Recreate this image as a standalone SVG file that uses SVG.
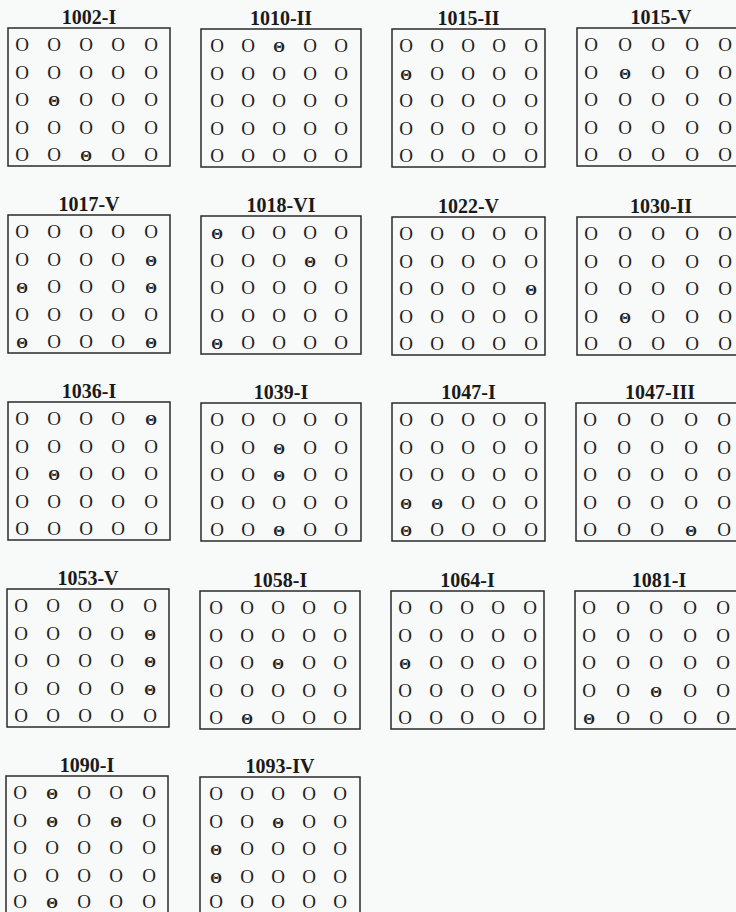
<svg xmlns="http://www.w3.org/2000/svg" width="736" height="912" viewBox="0 0 736 912">
<style>
.bg{fill:#f8f9f9}
.box{fill:none;stroke:#2a2a2a;stroke-width:1.5}
.ttl{font-family:"Liberation Serif","Times New Roman",serif;font-weight:bold;font-size:20px;text-anchor:middle;fill:#1a1a1a}
.c{font-family:"Liberation Serif","Times New Roman",serif;font-size:19px;text-anchor:middle;fill:#222}
.t{font-size:15px;font-weight:bold}
</style>
<rect class="bg" x="0" y="0" width="736" height="912"/>

<g id="g1002-I" transform="translate(8,28)">
<rect class="box" x="0" y="0" width="162" height="138"/>
<text class="ttl" x="81" y="-4">1002-I</text>
<text class="c" x="14 46 78 110 143" y="23">OOOOO</text>
<text class="c" x="14 46 78 110 143" y="50.5">OOOOO</text>
<text class="c" x="14 46 78 110 143" y="78">O<tspan class="t">Θ</tspan>OOO</text>
<text class="c" x="14 46 78 110 143" y="105.5">OOOOO</text>
<text class="c" x="14 46 78 110 143" y="133">OO<tspan class="t">Θ</tspan>OO</text>
</g>

<g id="g1010-II" transform="translate(201,29)">
<rect class="box" x="0" y="0" width="160" height="138"/>
<text class="ttl" x="80" y="-4">1010-II</text>
<text class="c" x="16 47 78 109 140" y="23">OO<tspan class="t">Θ</tspan>OO</text>
<text class="c" x="16 47 78 109 140" y="50.5">OOOOO</text>
<text class="c" x="16 47 78 109 140" y="78">OOOOO</text>
<text class="c" x="16 47 78 109 140" y="105.5">OOOOO</text>
<text class="c" x="16 47 78 109 140" y="133">OOOOO</text>
</g>

<g id="g1015-II" transform="translate(392,29)">
<rect class="box" x="0" y="0" width="153" height="138"/>
<text class="ttl" x="76.5" y="-4">1015-II</text>
<text class="c" x="14 45 76 107 139" y="23">OOOOO</text>
<text class="c" x="14 45 76 107 139" y="50.5"><tspan class="t">Θ</tspan>OOOO</text>
<text class="c" x="14 45 76 107 139" y="78">OOOOO</text>
<text class="c" x="14 45 76 107 139" y="105.5">OOOOO</text>
<text class="c" x="14 45 76 107 139" y="133">OOOOO</text>
</g>

<g id="g1015-V" transform="translate(577,28)">
<rect class="box" x="0" y="0" width="168" height="138"/>
<text class="ttl" x="84" y="-4">1015-V</text>
<text class="c" x="14 48 81 115 148" y="23">OOOOO</text>
<text class="c" x="14 48 81 115 148" y="50.5">O<tspan class="t">Θ</tspan>OOO</text>
<text class="c" x="14 48 81 115 148" y="78">OOOOO</text>
<text class="c" x="14 48 81 115 148" y="105.5">OOOOO</text>
<text class="c" x="14 48 81 115 148" y="133">OOOOO</text>
</g>

<g id="g1017-V" transform="translate(8,215)">
<rect class="box" x="0" y="0" width="162" height="138"/>
<text class="ttl" x="81" y="-4">1017-V</text>
<text class="c" x="14 46 78 110 143" y="23">OOOOO</text>
<text class="c" x="14 46 78 110 143" y="50.5">OOOO<tspan class="t">Θ</tspan></text>
<text class="c" x="14 46 78 110 143" y="78"><tspan class="t">Θ</tspan>OOO<tspan class="t">Θ</tspan></text>
<text class="c" x="14 46 78 110 143" y="105.5">OOOOO</text>
<text class="c" x="14 46 78 110 143" y="133"><tspan class="t">Θ</tspan>OOO<tspan class="t">Θ</tspan></text>
</g>

<g id="g1018-VI" transform="translate(201,216)">
<rect class="box" x="0" y="0" width="160" height="138"/>
<text class="ttl" x="80" y="-4">1018-VI</text>
<text class="c" x="16 47 78 109 140" y="23"><tspan class="t">Θ</tspan>OOOO</text>
<text class="c" x="16 47 78 109 140" y="50.5">OOO<tspan class="t">Θ</tspan>O</text>
<text class="c" x="16 47 78 109 140" y="78">OOOOO</text>
<text class="c" x="16 47 78 109 140" y="105.5">OOOOO</text>
<text class="c" x="16 47 78 109 140" y="133"><tspan class="t">Θ</tspan>OOOO</text>
</g>

<g id="g1022-V" transform="translate(392,217)">
<rect class="box" x="0" y="0" width="153" height="138"/>
<text class="ttl" x="76.5" y="-4">1022-V</text>
<text class="c" x="14 45 76 107 139" y="23">OOOOO</text>
<text class="c" x="14 45 76 107 139" y="50.5">OOOOO</text>
<text class="c" x="14 45 76 107 139" y="78">OOOO<tspan class="t">Θ</tspan></text>
<text class="c" x="14 45 76 107 139" y="105.5">OOOOO</text>
<text class="c" x="14 45 76 107 139" y="133">OOOOO</text>
</g>

<g id="g1030-II" transform="translate(577,217)">
<rect class="box" x="0" y="0" width="168" height="138"/>
<text class="ttl" x="84" y="-4">1030-II</text>
<text class="c" x="14 48 81 115 148" y="23">OOOOO</text>
<text class="c" x="14 48 81 115 148" y="50.5">OOOOO</text>
<text class="c" x="14 48 81 115 148" y="78">OOOOO</text>
<text class="c" x="14 48 81 115 148" y="105.5">O<tspan class="t">Θ</tspan>OOO</text>
<text class="c" x="14 48 81 115 148" y="133">OOOOO</text>
</g>

<g id="g1036-I" transform="translate(8,402)">
<rect class="box" x="0" y="0" width="162" height="138"/>
<text class="ttl" x="81" y="-4">1036-I</text>
<text class="c" x="14 46 78 110 143" y="23">OOOO<tspan class="t">Θ</tspan></text>
<text class="c" x="14 46 78 110 143" y="50.5">OOOOO</text>
<text class="c" x="14 46 78 110 143" y="78">O<tspan class="t">Θ</tspan>OOO</text>
<text class="c" x="14 46 78 110 143" y="105.5">OOOOO</text>
<text class="c" x="14 46 78 110 143" y="133">OOOOO</text>
</g>

<g id="g1039-I" transform="translate(201,403)">
<rect class="box" x="0" y="0" width="160" height="138"/>
<text class="ttl" x="80" y="-4">1039-I</text>
<text class="c" x="16 47 78 109 140" y="23">OOOOO</text>
<text class="c" x="16 47 78 109 140" y="50.5">OO<tspan class="t">Θ</tspan>OO</text>
<text class="c" x="16 47 78 109 140" y="78">OO<tspan class="t">Θ</tspan>OO</text>
<text class="c" x="16 47 78 109 140" y="105.5">OOOOO</text>
<text class="c" x="16 47 78 109 140" y="133">OO<tspan class="t">Θ</tspan>OO</text>
</g>

<g id="g1047-I" transform="translate(392,403)">
<rect class="box" x="0" y="0" width="153" height="138"/>
<text class="ttl" x="76.5" y="-4">1047-I</text>
<text class="c" x="14 45 76 107 139" y="23">OOOOO</text>
<text class="c" x="14 45 76 107 139" y="50.5">OOOOO</text>
<text class="c" x="14 45 76 107 139" y="78">OOOOO</text>
<text class="c" x="14 45 76 107 139" y="105.5"><tspan class="t">Θ</tspan><tspan class="t">Θ</tspan>OOO</text>
<text class="c" x="14 45 76 107 139" y="133"><tspan class="t">Θ</tspan>OOOO</text>
</g>

<g id="g1047-III" transform="translate(576,403)">
<rect class="box" x="0" y="0" width="168" height="138"/>
<text class="ttl" x="84" y="-4">1047-III</text>
<text class="c" x="14 48 81 115 148" y="23">OOOOO</text>
<text class="c" x="14 48 81 115 148" y="50.5">OOOOO</text>
<text class="c" x="14 48 81 115 148" y="78">OOOOO</text>
<text class="c" x="14 48 81 115 148" y="105.5">OOOOO</text>
<text class="c" x="14 48 81 115 148" y="133">OOO<tspan class="t">Θ</tspan>O</text>
</g>

<g id="g1053-V" transform="translate(7,589)">
<rect class="box" x="0" y="0" width="162" height="138"/>
<text class="ttl" x="81" y="-4">1053-V</text>
<text class="c" x="14 46 78 110 143" y="23">OOOOO</text>
<text class="c" x="14 46 78 110 143" y="50.5">OOOO<tspan class="t">Θ</tspan></text>
<text class="c" x="14 46 78 110 143" y="78">OOOO<tspan class="t">Θ</tspan></text>
<text class="c" x="14 46 78 110 143" y="105.5">OOOO<tspan class="t">Θ</tspan></text>
<text class="c" x="14 46 78 110 143" y="133">OOOOO</text>
</g>

<g id="g1058-I" transform="translate(200,591)">
<rect class="box" x="0" y="0" width="160" height="138"/>
<text class="ttl" x="80" y="-4">1058-I</text>
<text class="c" x="16 47 78 109 140" y="23">OOOOO</text>
<text class="c" x="16 47 78 109 140" y="50.5">OOOOO</text>
<text class="c" x="16 47 78 109 140" y="78">OO<tspan class="t">Θ</tspan>OO</text>
<text class="c" x="16 47 78 109 140" y="105.5">OOOOO</text>
<text class="c" x="16 47 78 109 140" y="133">O<tspan class="t">Θ</tspan>OOO</text>
</g>

<g id="g1064-I" transform="translate(391,591)">
<rect class="box" x="0" y="0" width="153" height="138"/>
<text class="ttl" x="76.5" y="-4">1064-I</text>
<text class="c" x="14 45 76 107 139" y="23">OOOOO</text>
<text class="c" x="14 45 76 107 139" y="50.5">OOOOO</text>
<text class="c" x="14 45 76 107 139" y="78"><tspan class="t">Θ</tspan>OOOO</text>
<text class="c" x="14 45 76 107 139" y="105.5">OOOOO</text>
<text class="c" x="14 45 76 107 139" y="133">OOOOO</text>
</g>

<g id="g1081-I" transform="translate(575,591)">
<rect class="box" x="0" y="0" width="168" height="138"/>
<text class="ttl" x="84" y="-4">1081-I</text>
<text class="c" x="14 48 81 115 148" y="23">OOOOO</text>
<text class="c" x="14 48 81 115 148" y="50.5">OOOOO</text>
<text class="c" x="14 48 81 115 148" y="78">OOOOO</text>
<text class="c" x="14 48 81 115 148" y="105.5">OO<tspan class="t">Θ</tspan>OO</text>
<text class="c" x="14 48 81 115 148" y="133"><tspan class="t">Θ</tspan>OOOO</text>
</g>

<g id="g1090-I" transform="translate(6,776)">
<rect class="box" x="0" y="0" width="162" height="140"/>
<text class="ttl" x="81" y="-4">1090-I</text>
<text class="c" x="14 46 78 110 143" y="23">O<tspan class="t">Θ</tspan>OOO</text>
<text class="c" x="14 46 78 110 143" y="50.5">O<tspan class="t">Θ</tspan>O<tspan class="t">Θ</tspan>O</text>
<text class="c" x="14 46 78 110 143" y="78">OOOOO</text>
<text class="c" x="14 46 78 110 143" y="105.5">OOOOO</text>
<text class="c" x="14 46 78 110 143" y="132">O<tspan class="t">Θ</tspan>OOO</text>
</g>

<g id="g1093-IV" transform="translate(200,777)">
<rect class="box" x="0" y="0" width="160" height="140"/>
<text class="ttl" x="80" y="-4">1093-IV</text>
<text class="c" x="16 47 78 109 140" y="23">OOOOO</text>
<text class="c" x="16 47 78 109 140" y="50.5">OO<tspan class="t">Θ</tspan>OO</text>
<text class="c" x="16 47 78 109 140" y="78"><tspan class="t">Θ</tspan>OOOO</text>
<text class="c" x="16 47 78 109 140" y="105.5"><tspan class="t">Θ</tspan>OOOO</text>
<text class="c" x="16 47 78 109 140" y="131">OOOOO</text>
</g>
</svg>
